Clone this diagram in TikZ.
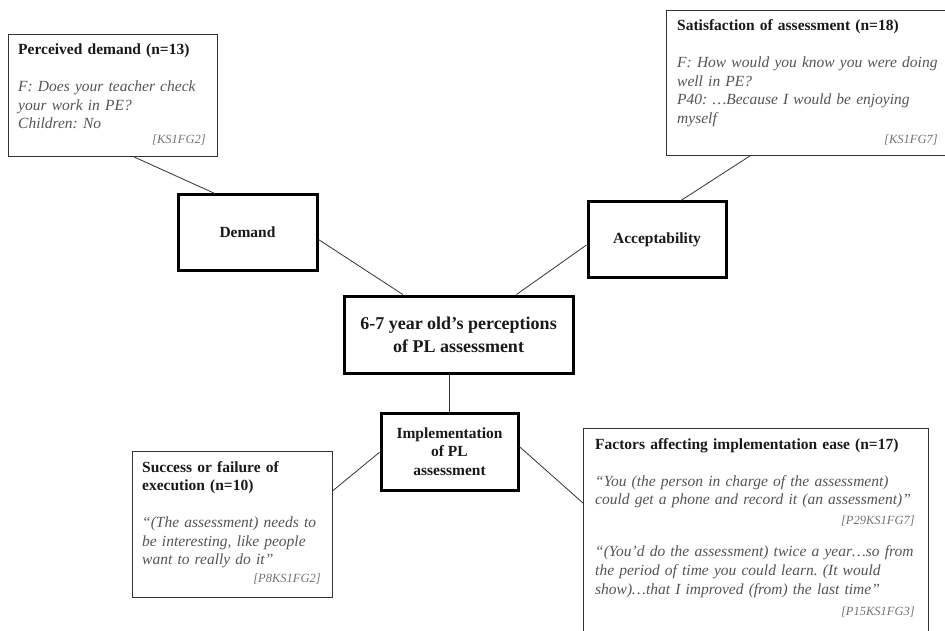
\documentclass[tikz,border=0pt]{standalone}
\usepackage{fontspec}
\setmainfont{Liberation Serif}
\usetikzlibrary{calc,positioning,shapes}
\frenchspacing

\definecolor{titlegray}{gray}{0.1}
\definecolor{quotegray}{gray}{0.33}
\definecolor{refgray}{gray}{0.45}
\definecolor{linegray}{gray}{0.2}

\newcommand{\hubfont}{\fontsize{15.5}{18.5}\selectfont\bfseries}
\newcommand{\corefont}{\fontsize{18}{23}\selectfont\bfseries}
\newcommand{\quotefont}{\fontsize{15.5}{18.5}\selectfont\itshape}
\newcommand{\reffont}{\fontsize{12.5}{15}\selectfont\itshape}
\newcommand{\boxtitle}[1]{{\upshape\bfseries\color{titlegray}#1}}

\tikzset{
  hub/.style={draw=black,line width=3pt,rectangle,align=center,font=\hubfont,text=titlegray},
  quotebox/.style={draw=linegray,line width=0.9pt,rectangle,inner sep=0pt,anchor=north west},
  quotetext/.style={anchor=base west,inner sep=0pt,text width=330pt,align=left,font=\quotefont,text=quotegray},
  reftext/.style={anchor=base east,inner sep=0pt,font=\reffont,text=refgray},
  link/.style={draw=linegray,line width=0.8pt}
}

\begin{document}
\begin{tikzpicture}[x=1pt,y=-1pt]

  \useasboundingbox (0,0) rectangle (945,631);
  \clip (0,0) rectangle (945,631);

  % the four themes round the centre
  \node [hub,minimum width=229,minimum height=77,font=\corefont] at (458.5,334.5) (core) {6-7 year old’s perceptions\\of PL assessment};
  \node [hub,minimum width=139,minimum height=75] at (247.5,232.5) (demand) {Demand};
  \node [hub,minimum width=138,minimum height=75] at (657,239.5) (accept) {Acceptability};
  \node [hub,minimum width=137,minimum height=77] at (449.5,451.5) (impl) {Implementation\\of PL\\assessment};

  % quote boxes
  \node [quotebox,minimum width=209,minimum height=122] at (8,34) (pdbox) {};
  \node [quotetext] at ($(pdbox.north west)+(10,21)$) (pdtxt) {\boxtitle{Perceived demand (n=13)}\\[18.5pt]F: Does your teacher check\\your work in PE?\\Children: No};
  \node [reftext] at ($(pdbox.south east)+(-12,-13)$) (pdref) {[KS1FG2]};

  \node [quotebox,minimum width=300,minimum height=145] at (666,10) (satbox) {};
  \node [quotetext] at ($(satbox.north west)+(11,21)$) (sattxt) {\boxtitle{Satisfaction of assessment (n=18)}\\[18.5pt]F: How would you know you were doing\\well in PE?\\P40: …Because I would be enjoying\\myself};
  \node [reftext] at ($(satbox.south east)+(-29,-12)$) (satref) {[KS1FG7]};

  \node [quotebox,minimum width=200,minimum height=146] at (132,451) (succbox) {};
  \node [quotetext] at ($(succbox.north west)+(10,21)$) (succtxt) {\boxtitle{Success or failure of}\\\boxtitle{execution (n=10)}\\[18.5pt]“(The assessment) needs to\\be interesting, like people\\want to really do it”};
  \node [reftext] at ($(succbox.south east)+(-12,-15)$) (succref) {[P8KS1FG2]};

  \node [quotebox,minimum width=345,minimum height=250] at (583,428) (factbox) {};
  \node [quotetext] at ($(factbox.north west)+(12,21)$) (facttxt) {\boxtitle{Factors affecting implementation ease (n=17)}\\[18.5pt]“You (the person in charge of the assessment)\\could get a phone and record it (an assessment)”};
  \node [reftext] at ($(factbox.north east)+(-14,96)$) (factrefa) {[P29KS1FG7]};
  \node [quotetext,font=\fontsize{15.5}{19.2}\selectfont\itshape] at ($(factbox.north west)+(12,128)$) (facttxtb) {“(You’d do the assessment) twice a year…so from\\the period of time you could learn. (It would\\show)…that I improved (from) the last time”};
  \node [reftext] at ($(factbox.north east)+(-14,187)$) (factrefb) {[P15KS1FG3]};

  % connectors
  \draw [link] ($(pdbox.south west)!.6!(pdbox.south east)$) -- ($(demand.north west)!.27!(demand.north east)$);
  \draw [link] ($(demand.north east)!.59!(demand.south east)$) -- ($(core.north west)!.26!(core.north east)$);
  \draw [link] ($(accept.north west)!.57!(accept.south west)$) -- ($(core.north west)!.75!(core.north east)$);
  \draw [link] ($(satbox.south west)+(84,0)$) -- ($(accept.north west)!.67!(accept.north east)$);
  \draw [link] (impl.north) -- (impl.north |- core.south);
  \draw [link] ($(impl.north west)!.51!(impl.south west)$) -- ($(succbox.north east)!.27!(succbox.south east)$);
  \draw [link] ($(impl.north east)!.44!(impl.south east)$) -- ($(factbox.north west)+(0,75)$);
\end{tikzpicture}
\end{document}
